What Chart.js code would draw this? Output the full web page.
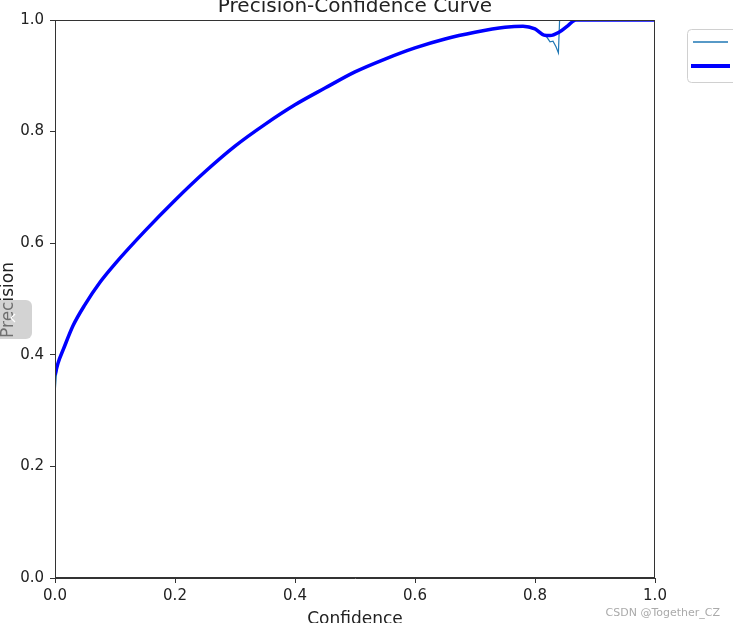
<!DOCTYPE html>
<html>
<head>
<meta charset="utf-8">
<script src="https://cdn.jsdelivr.net/npm/chart.js@4.4.1/dist/chart.umd.min.js"></script>
<style>
  body { margin: 0; background: #fff; }
  canvas { display: block; }
</style>
</head>
<body>
<canvas id="pc" width="733" height="623"></canvas>
<script>
// values
var ticks = [0, 0.2, 0.4, 0.6, 0.8, 1.0];

var confAll = [0, 0.005, 0.014, 0.03, 0.05, 0.075, 0.1, 0.15, 0.2, 0.25, 0.3, 0.35, 0.4, 0.45,
    0.5, 0.55, 0.6, 0.65, 0.7, 0.75, 0.78, 0.8, 0.815, 0.825, 0.84, 0.855, 0.868, 0.9, 1.0];
var precAll = [0.364, 0.385, 0.41, 0.452, 0.49, 0.53, 0.563, 0.622, 0.677, 0.728, 0.774, 0.813, 0.848, 0.878,
    0.907, 0.930, 0.950, 0.966, 0.978, 0.987, 0.989, 0.984, 0.973, 0.972, 0.978, 0.990, 1.0, 1.0, 1.0];

var confCls = [0, 0.002, 0.005, 0.014, 0.03, 0.05, 0.075, 0.1, 0.15, 0.2, 0.25, 0.3, 0.35, 0.4, 0.45,
    0.5, 0.55, 0.6, 0.65, 0.7, 0.75, 0.78, 0.8, 0.82, 0.825, 0.83, 0.835, 0.839, 0.841, 1.0];
var precCls = [0.33, 0.36, 0.385, 0.41, 0.452, 0.49, 0.53, 0.563, 0.622, 0.677, 0.728, 0.774, 0.813, 0.848, 0.878,
    0.907, 0.930, 0.950, 0.966, 0.978, 0.987, 0.989, 0.983, 0.969, 0.961, 0.962, 0.952, 0.941, 1.0, 1.0];

function toPoints(xs, ys) {
    var pts = [];
    for (var i = 0; i < xs.length; i++) pts.push({x: xs[i], y: ys[i]});
    return pts;
}

var FONT = "'DejaVu Sans', sans-serif";

// frame, title, axis labels, legend box and the bits of page overlay
var extras = {
    id: 'extras',
    afterDraw: function(chart) {
        var c = chart.ctx, a = chart.chartArea;
        c.save();
        c.strokeStyle = '#333';
        c.lineWidth = 1;
        c.strokeRect(a.left + 0.5, a.top + 0.5, a.right - a.left - 1, a.bottom - a.top - 1);

        c.fillStyle = '#222';
        c.textAlign = 'center';
        c.textBaseline = 'alphabetic';
        c.font = '20px ' + FONT;
        c.fillText('Precision-Confidence Curve', (a.left + a.right) / 2, 12);
        c.font = '17px ' + FONT;
        c.fillText('Confidence', (a.left + a.right) / 2, 624);

        c.save();
        c.translate(13, 300);
        c.rotate(-Math.PI / 2);
        c.fillText('Precision', 0, 0);
        c.restore();

        // legend (labels fall outside the picture)
        c.fillStyle = '#fff';
        c.strokeStyle = '#d0d0d0';
        c.lineWidth = 1;
        c.beginPath();
        c.roundRect(687.5, 29.5, 60, 53, 4);
        c.fill();
        c.stroke();
        c.strokeStyle = '#1f77b4';
        c.lineWidth = 1.3;
        c.beginPath(); c.moveTo(693, 42); c.lineTo(728, 42); c.stroke();
        c.strokeStyle = '#0000ff';
        c.lineWidth = 4;
        c.beginPath(); c.moveTo(691, 66); c.lineTo(730, 66); c.stroke();

        // grey side tab over the y label
        c.fillStyle = 'rgba(175,175,175,0.55)';
        c.beginPath();
        c.roundRect(-6, 300, 38, 39, 6);
        c.fill();
        c.strokeStyle = '#fff';
        c.lineWidth = 1.3;
        c.beginPath(); c.moveTo(15, 314); c.lineTo(11, 318); c.lineTo(15, 322); c.stroke();

        c.fillStyle = '#aaa';
        c.textAlign = 'right';
        c.font = '11px ' + FONT;
        c.fillText('CSDN @Together_CZ', 720, 616);
        c.restore();
    }
};

new Chart(document.getElementById('pc'), {
    type: 'scatter',
    data: {
        datasets: [
            {
                label: 'all classes',
                data: toPoints(confAll, precAll),
                showLine: true,
                borderColor: '#0000ff',
                borderWidth: 3.5,
                pointRadius: 0,
                cubicInterpolationMode: 'monotone',
                order: 0
            },
            {
                label: 'class',
                data: toPoints(confCls, precCls),
                showLine: true,
                borderColor: '#1f77b4',
                borderWidth: 1.2,
                pointRadius: 0,
                tension: 0,
                order: 1
            }
        ]
    },
    options: {
        responsive: false,
        animation: false,
        layout: { padding: { left: 0, right: 78, top: 20, bottom: 0 } },
        plugins: {
            legend: { display: false },
            tooltip: { enabled: false }
        },
        scales: {
            x: {
                type: 'linear', min: 0, max: 1,
                afterFit: function(s) { s.height = 45; },
                afterBuildTicks: function(s) { s.ticks = ticks.map(function(v) { return {value: v}; }); },
                grid: { drawOnChartArea: false, drawTicks: true, tickLength: 5, color: '#333' },
                border: { display: true, color: '#333' },
                ticks: { color: '#222', padding: 4, font: { family: FONT, size: 15 },
                    callback: function(v) { return v.toFixed(1); } }
            },
            y: {
                type: 'linear', min: 0, max: 1,
                afterFit: function(s) { s.width = 55; },
                afterBuildTicks: function(s) { s.ticks = ticks.map(function(v) { return {value: v}; }); },
                grid: { drawOnChartArea: false, drawTicks: true, tickLength: 5, color: '#333' },
                border: { display: true, color: '#333' },
                ticks: { color: '#222', padding: 6, font: { family: FONT, size: 15 },
                    callback: function(v) { return v.toFixed(1); } }
            }
        }
    },
    plugins: [extras]
});
</script>
</body>
</html>
